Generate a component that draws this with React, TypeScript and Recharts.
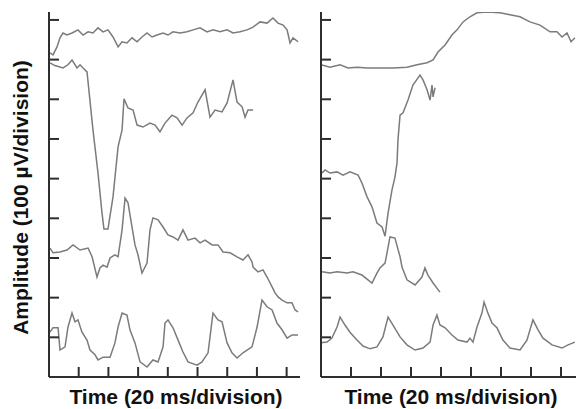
import React from 'react';
import { LineChart, Line, XAxis, YAxis } from 'recharts';

// time in ms, amplitude in µV (1 division = 20 ms / 100 µV)
const xTicks = [20, 40, 60, 80, 100, 120, 140, 160];
const yTicks = [100, 200, 300, 400, 500, 600, 700, 800, 900];

const left1: [number, number][] = [
  [0.7, 817], [2.7, 812], [5.4, 832], [7.4, 855], [9.4, 867], [12.1, 862], [15.5, 867], [19.5, 875],
  [22.9, 862], [26.3, 870], [29.6, 867], [33.0, 880], [36.4, 870], [39.7, 875], [43.1, 857], [46.5, 832],
  [49.2, 845], [52.5, 842], [55.9, 855], [59.3, 845], [62.6, 857], [66.0, 867], [69.4, 857], [72.7, 862],
  [76.8, 867], [80.1, 862], [83.5, 870], [88.2, 867], [92.9, 870], [97.0, 875], [101.7, 880], [106.4, 870],
  [110.4, 875], [115.2, 870], [119.9, 875], [123.9, 867], [128.6, 870], [133.3, 875], [137.4, 882],
  [142.1, 895], [146.8, 892], [150.8, 905], [154.2, 892], [157.6, 887], [160.3, 875], [162.3, 842],
  [164.3, 855], [167.7, 845],
];

const left2: [number, number][] = [
  [0.7, 792], [4.0, 785], [9.4, 779], [12.8, 787], [15.5, 799], [18.9, 779], [20.9, 787], [22.9, 779],
  [25.6, 769], [29.6, 623], [33.0, 514], [35.7, 413], [37.0, 373], [39.7, 373], [43.1, 454], [46.5, 580],
  [49.2, 623], [50.5, 701], [53.2, 678], [56.6, 673], [59.3, 635], [63.3, 630], [68.0, 640], [71.4, 635],
  [74.7, 618], [78.1, 640], [82.8, 660], [86.2, 653], [89.6, 635], [92.9, 653], [97.0, 666], [100.3, 693],
  [105.1, 724], [108.4, 655], [111.8, 673], [116.5, 668], [119.9, 691], [123.9, 749], [126.6, 693],
  [130.0, 681], [132.0, 655], [134.0, 673], [137.4, 673],
];

const left3: [number, number][] = [
  [0.7, 325], [2.7, 313], [7.4, 315], [12.1, 320], [16.2, 333], [20.9, 320], [26.3, 325], [29.0, 303],
  [32.3, 252], [34.3, 275], [36.4, 282], [39.1, 277], [41.1, 300], [44.4, 308], [46.5, 303], [49.2, 371],
  [51.2, 451], [53.2, 439], [55.9, 378], [57.9, 333], [59.9, 308], [62.6, 262], [66.0, 287], [68.0, 371],
  [70.0, 401], [73.4, 396], [76.8, 378], [80.1, 358], [83.5, 353], [86.9, 345], [90.2, 371], [93.6, 345],
  [98.3, 350], [101.7, 338], [105.1, 345], [109.8, 333], [113.8, 333], [117.2, 315], [121.9, 313],
  [126.6, 303], [130.6, 295], [134.0, 308], [136.7, 290], [137.4, 277], [140.7, 265], [144.1, 270],
  [146.8, 252], [150.2, 227], [152.2, 212], [154.2, 202], [156.9, 194], [160.3, 187], [163.6, 187],
  [165.7, 169], [167.7, 164],
];

const left4: [number, number][] = [
  [0.7, 113], [2.7, 124], [6.1, 124], [7.4, 68], [10.8, 76], [12.8, 126], [15.5, 161], [17.5, 139],
  [19.5, 144], [22.2, 113], [25.6, 93], [27.6, 68], [31.0, 56], [33.0, 43], [36.4, 50], [41.1, 50],
  [44.4, 86], [46.5, 126], [49.2, 161], [52.5, 156], [54.5, 119], [57.9, 86], [61.3, 38], [66.0, 25],
  [70.0, 43], [73.4, 38], [76.8, 76], [78.1, 136], [80.1, 144], [83.5, 124], [86.9, 93], [90.2, 63],
  [93.6, 38], [99.7, 30], [103.0, 38], [107.1, 61], [110.4, 161], [113.8, 144], [116.5, 139], [119.9, 86],
  [123.2, 61], [126.6, 48], [130.6, 61], [136.7, 76], [140.1, 126], [143.4, 194], [146.8, 177],
  [150.2, 169], [153.5, 136], [156.9, 119], [160.3, 98], [163.6, 106], [167.7, 106],
];

const right1: [number, number][] = [
  [0, 787], [6.0, 781], [12.7, 787], [18.0, 779], [24.0, 781], [30.7, 779], [39.3, 779], [48.0, 779],
  [57.3, 781], [64.0, 787], [70.7, 792], [74.7, 799], [78.0, 819], [82.7, 837], [87.3, 862], [90.7, 875],
  [94.7, 895], [99.3, 908], [104.0, 918], [110.7, 920], [119.3, 918], [126.0, 913], [132.7, 908],
  [139.3, 895], [146.0, 887], [152.7, 870], [157.3, 870], [160.7, 857], [164.0, 867], [166.7, 845],
  [169.3, 855],
];

const right2: [number, number][] = [
  [0.7, 514], [2.7, 522], [6.0, 514], [10.7, 517], [14.7, 509], [19.3, 517], [24.7, 509], [27.3, 489],
  [30.7, 454], [34.0, 429], [37.3, 388], [40.7, 378], [42.7, 355], [44.7, 413], [47.3, 471], [49.3, 504],
  [50.7, 540], [51.3, 597], [52.7, 660], [54.7, 666], [58.0, 698], [61.3, 736], [66.0, 761], [68.0, 749],
  [70.7, 724], [72.7, 698], [74.0, 736], [74.7, 706], [76.0, 729],
];

const right3: [number, number][] = [
  [0.7, 265], [6.0, 262], [10.7, 265], [17.3, 262], [21.3, 265], [27.3, 257], [34.0, 237], [37.3, 262],
  [39.3, 275], [42.7, 287], [46.0, 353], [49.3, 350], [52.7, 303], [54.0, 277], [57.3, 245], [62.7, 232],
  [67.3, 252], [69.3, 275], [71.3, 257], [74.7, 237], [79.3, 214],
];

const right4: [number, number][] = [
  [0, 86], [4.0, 88], [7.3, 98], [10.7, 126], [12.7, 151], [16.0, 131], [19.3, 113], [24.0, 93],
  [28.0, 78], [32.7, 71], [37.3, 76], [41.3, 101], [44.7, 151], [48.0, 131], [52.7, 101], [57.3, 81],
  [62.7, 68], [68.0, 73], [72.7, 88], [74.7, 131], [77.3, 156], [79.3, 131], [82.7, 124], [87.3, 106],
  [91.3, 93], [97.3, 88], [99.3, 98], [101.3, 88], [104.0, 126], [107.3, 161], [108.7, 189], [111.3, 161],
  [114.0, 136], [117.3, 124], [121.3, 93], [126.0, 73], [132.7, 68], [137.3, 93], [141.3, 144],
  [144.7, 119], [148.0, 98], [154.0, 81], [160.7, 73], [164.7, 81], [169.3, 88],
];

const toRows = (pts: [number, number][]) => pts.map(([t, v]) => ({ t, v }));

const axisColor = '#2e2e2e';
const traceColor = '#7b7b7b';
const labelFont = '"Liberation Sans", Arial, sans-serif';
const noLabel = () => '';

function Panel({ traces, xMax, width, marginLeft, marginRight }: { traces: [number, number][][]; xMax: number; width: number; marginLeft: number; marginRight: number }) {
  return (
    <LineChart width={width} height={409} margin={{ top: 12, right: marginRight, bottom: 32, left: marginLeft }}>
      <XAxis
        type="number"
        dataKey="t"
        domain={[0, xMax]}
        ticks={xTicks}
        mirror
        tickFormatter={noLabel}
        tickSize={10}
        axisLine={{ stroke: axisColor, strokeWidth: 2 }}
        tickLine={{ stroke: axisColor, strokeWidth: 2 }}
        allowDataOverflow
      />
      <YAxis
        type="number"
        domain={[0, 920]}
        ticks={yTicks}
        mirror
        tickFormatter={noLabel}
        tickSize={10}
        axisLine={{ stroke: axisColor, strokeWidth: 2 }}
        tickLine={{ stroke: axisColor, strokeWidth: 2 }}
        allowDataOverflow
      />
      {traces.map((pts, i) => (
        <Line
          key={i}
          data={toRows(pts)}
          dataKey="v"
          type="linear"
          stroke={traceColor}
          strokeWidth={1.5}
          dot={false}
          activeDot={false}
          isAnimationActive={false}
        />
      ))}
    </LineChart>
  );
}

export default function App() {
  const xLabel: React.CSSProperties = {
    position: 'absolute',
    top: 386,
    width: 300,
    textAlign: 'center',
    fontFamily: labelFont,
    fontWeight: 'bold',
    fontSize: 21,
    lineHeight: '21px',
    color: '#111',
  };
  return (
    <div style={{ position: 'absolute', left: 0, top: 0, width: 576, height: 409, background: '#fff', overflow: 'hidden' }}>
      <div style={{ position: 'absolute', left: 0, top: 0 }}>
        <Panel traces={[left1, left2, left3, left4]} xMax={169} width={310} marginLeft={49} marginRight={10} />
      </div>
      <div style={{ position: 'absolute', left: 310, top: 0 }}>
        <Panel traces={[right1, right2, right3, right4]} xMax={170} width={266} marginLeft={11} marginRight={0} />
      </div>
      <div
        style={{
          position: 'absolute',
          left: 20 - 160,
          top: 197.5 - 10.5,
          width: 320,
          textAlign: 'center',
          fontFamily: labelFont,
          fontWeight: 'bold',
          fontSize: 21,
          lineHeight: '21px',
          color: '#111',
          transform: 'rotate(-90deg)',
          whiteSpace: 'nowrap',
        }}
      >
        Amplitude (100 µV/division)
      </div>
      <div style={{ ...xLabel, left: 176 - 150 }}>Time (20 ms/division)</div>
      <div style={{ ...xLabel, left: 451 - 150 }}>Time (20 ms/division)</div>
    </div>
  );
}
